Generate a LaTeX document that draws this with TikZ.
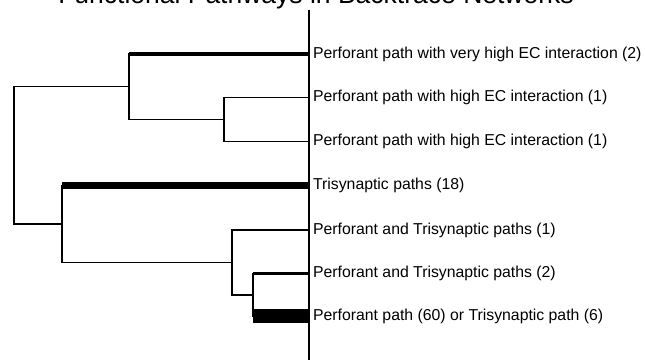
\documentclass[tikz,border=0pt]{standalone}
\usepackage{fontspec}
\setmainfont{Liberation Sans}
\begin{document}
\begin{tikzpicture}[x=1pt, y=-1pt, line width=1.2pt, font=\fontsize{15.8}{18}\selectfont,
  leaf/.style={anchor=west, inner xsep=3.5pt, inner ysep=0pt}]
  \useasboundingbox (0,0) rectangle (645,360);
  \node (title) [anchor=base, font=\fontsize{26.5}{30}\selectfont] at (316,3.5) {Functional Pathways in Backtrace Networks};
  \draw (309,9.5) -- (309,360);
  \foreach \n/\y/\t in {l1/54/Perforant path with very high EC interaction (2), l2/97.5/Perforant path with high EC interaction (1), l3/141.3/Perforant path with high EC interaction (1), l4/185.5/Trisynaptic paths (18), l5/230/Perforant and Trisynaptic paths (1), l6/273.8/Perforant and Trisynaptic paths (2), l7/316/Perforant path (60) or Trisynaptic path (6)}
    \node (\n) [leaf] at (309,\y) {\t};
  \coordinate (B) at (224,119.4);
  \coordinate (A) at (129,86.7);
  \coordinate (E) at (253,294.9);
  \coordinate (D) at (232,262.5);
  \coordinate (C) at (62,224);
  \coordinate (R) at (14,155.4);
  \foreach \p/\a/\b in {R/A/C, A/l1/B, B/l2/l3, C/l4/D, D/l5/E, E/l6/l7}
    \draw[line cap=rect] (\p |- \a) -- (\p |- \b);
  \foreach \p/\c/\w in {A/l1.west/3.2, A/B/1.2, B/l2.west/1.2, B/l3.west/1.2, R/A/1.2, R/C/1.2, C/l4.west/7, C/D/1.2, D/l5.west/1.2, D/E/1.2, E/l6.west/3, E/l7.west/13.4}
    \draw[line width=\w pt] (\p |- \c) -- (\c);
\end{tikzpicture}
\end{document}
